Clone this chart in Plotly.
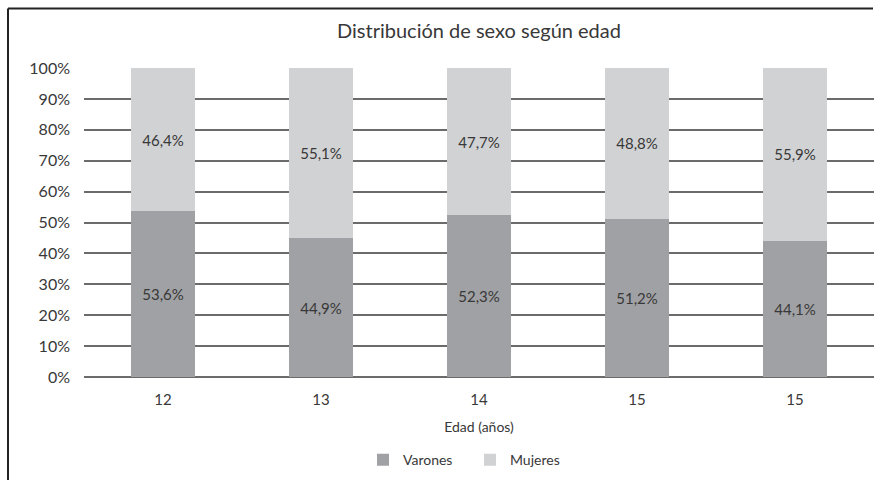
import plotly.graph_objects as go

categories = ["12", "13", "14", "15", "15"]
varones = [53.6, 44.9, 52.3, 51.2, 44.1]
mujeres = [46.4, 55.1, 47.7, 48.8, 55.9]
y_ticks = [0, 10, 20, 30, 40, 50, 60, 70, 80, 90, 100]

positions = list(range(len(categories)))

FONT = "Lato"
TXT = "#383838"

fig = go.Figure()
fig.add_trace(go.Bar(
    x=positions, y=varones, name="Varones",
    marker=dict(color="#a0a1a4", line=dict(width=0)),
    texttemplate="%{y:.1f}%", textposition="inside", insidetextanchor="middle",
    textangle=0, constraintext="none",
    textfont=dict(family=FONT, size=15, color=TXT),
))
fig.add_trace(go.Bar(
    x=positions, y=mujeres, name="Mujeres",
    marker=dict(color="#d1d2d4", line=dict(width=0)),
    texttemplate="%{y:.1f}%", textposition="inside", insidetextanchor="middle",
    textangle=0, constraintext="none",
    textfont=dict(family=FONT, size=15, color=TXT),
))

L, R, T, B = 84, 6, 68, 102
W, H = 880, 482
pw, ph = W - L - R, H - T - B

def px(xp):
    return (xp - L) / pw

def py(yp):
    return (H - B - yp) / ph

fig.update_layout(
    width=W, height=H,
    barmode="stack", bargap=0.59,
    separators=",.",
    plot_bgcolor="white", paper_bgcolor="white",
    margin=dict(l=L, r=R, t=T, b=B),
    font=dict(family=FONT, size=15, color=TXT),
    title=dict(text="Distribución de sexo según edad", x=(333 + 625) / 2 / W, xanchor="center",
               y=1 - 31 / H, yanchor="middle", yref="container",
               font=dict(family=FONT, size=20, color=TXT)),
    xaxis=dict(tickmode="array", tickvals=positions, ticktext=categories,
               range=[-0.5, len(categories) - 0.5], showgrid=False, zeroline=False,
               showline=False, ticks="", ticklabelstandoff=12,
               tickfont=dict(family=FONT, size=15, color=TXT),
               title=dict(text="Edad (años)", standoff=15,
                          font=dict(family=FONT, size=14, color=TXT))),
    yaxis=dict(range=[0, 100], tickmode="array", tickvals=y_ticks,
               ticktext=[f"{v}%" for v in y_ticks],
               showgrid=True, gridcolor="#6b6b6b", gridwidth=2,
               zeroline=True, zerolinecolor="#6b6b6b", zerolinewidth=2,
               showline=False, ticks="", ticklabelstandoff=13,
               tickfont=dict(family=FONT, size=16, color=TXT)),
    legend=dict(orientation="h", x=px(470), xanchor="center", y=py(464), yanchor="middle",
                font=dict(family=FONT, size=14, color=TXT), traceorder="normal",
                itemwidth=30, entrywidth=62),
    shapes=[
        dict(type="line", xref="paper", yref="paper", x0=px(8), x1=px(873), y0=py(8), y1=py(8),
             line=dict(color="#222222", width=2)),
        dict(type="line", xref="paper", yref="paper", x0=px(8), x1=px(8), y0=py(8), y1=py(484),
             line=dict(color="#222222", width=2)),
    ],
)

fig.write_html("out.html")
